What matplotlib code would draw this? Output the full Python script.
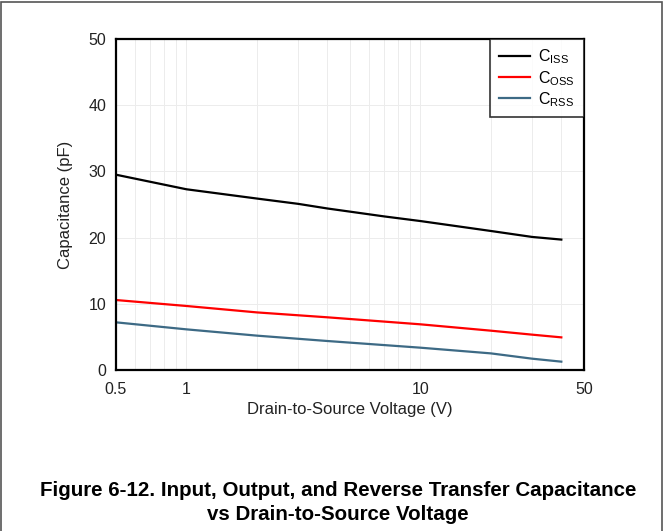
import matplotlib
matplotlib.use("Agg")
import matplotlib.pyplot as plt
from matplotlib.patches import Rectangle

plt.rcParams['font.family'] = ['Liberation Sans', 'DejaVu Sans']
plt.rcParams['mathtext.fontset'] = 'custom'
plt.rcParams['mathtext.rm'] = 'Liberation Sans'

vds = [0.5, 1, 2, 3, 4, 7, 10, 20, 30, 40]
ciss = [29.5, 27.3, 25.9, 25.1, 24.4, 23.2, 22.5, 21.0, 20.1, 19.7]
coss_v = [0.5, 1, 2, 4, 10, 20, 30, 40]
coss = [10.57, 9.67, 8.7, 7.96, 6.9, 5.94, 5.34, 4.93]
crss = [7.2, 6.14, 5.19, 4.38, 3.37, 2.51, 1.71, 1.26]

xticks = [0.5, 1, 10, 50]
xticklabels = ['0.5', '1', '10', '50']
yticks = [0, 10, 20, 30, 40, 50]

fig = plt.figure(figsize=(6.63, 5.31), dpi=100)
ax = fig.add_axes([116/663, 1-370/531, (584-116)/663, (370-39)/531])

ax.plot(vds, ciss, color='black', lw=1.6, label=r'C$_{\mathrm{ISS}}$')
ax.plot(coss_v, coss, color='#ff0000', lw=1.6, label=r'C$_{\mathrm{OSS}}$')
ax.plot(coss_v, crss, color='#3d6a85', lw=1.6, label=r'C$_{\mathrm{RSS}}$')

ax.set_xscale('log')
ax.set_xlim(0.5, 50)
ax.set_ylim(0, 50)
ax.set_xticks(xticks)
ax.set_xticklabels(xticklabels)
ax.set_yticks(yticks)
ax.minorticks_on()
ax.yaxis.set_minor_locator(matplotlib.ticker.NullLocator())
ax.xaxis.set_minor_formatter(matplotlib.ticker.NullFormatter())
ax.grid(True, which='both', axis='x', color='#ececec', lw=0.7)
ax.grid(True, which='major', axis='y', color='#ececec', lw=0.7)
ax.set_axisbelow(True)
ax.tick_params(which='both', length=0, labelsize=11.5, colors='#222222')
ax.tick_params(axis='y', pad=7)
ax.tick_params(axis='x', pad=9)
for s in ax.spines.values():
    s.set_linewidth(1.6)
    s.set_color('black')

ax.set_xlabel('Drain-to-Source Voltage (V)', fontsize=12, color='#222222', labelpad=3)
ax.set_ylabel('Capacitance (pF)', fontsize=12, color='#222222', labelpad=11)

leg = ax.legend(loc='upper right', fontsize=11.5, frameon=True, fancybox=False,
                borderaxespad=0, handlelength=1.95, handletextpad=0.5,
                borderpad=0.55, labelspacing=0.15)
leg.get_frame().set_edgecolor('black')
leg.get_frame().set_linewidth(1.2)

fig.text(338/663, 1-490/531, 'Figure 6-12. Input, Output, and Reverse Transfer Capacitance',
         ha='center', va='center', fontsize=14.8, fontweight='bold')
fig.text(338/663, 1-514/531, 'vs Drain-to-Source Voltage',
         ha='center', va='center', fontsize=14.8, fontweight='bold')

fig.patches.append(Rectangle((0.0008, -0.01), 0.9984, 1.0055, transform=fig.transFigure,
                             fill=False, edgecolor='#555555', lw=1.2))

fig.savefig('out.png', dpi=100)
